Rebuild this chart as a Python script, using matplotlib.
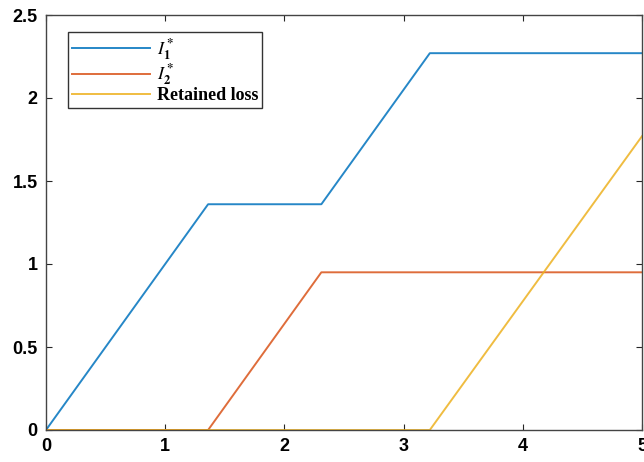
import matplotlib.pyplot as plt
import numpy as np

# breakpoints
x_i1 = [0, 1.36, 2.31, 3.22, 5]
y_i1 = [0, 1.36, 1.36, 2.27, 2.27]
x_i2 = [0, 1.36, 2.31, 5]
y_i2 = [0, 0, 0.95, 0.95]
x_ret = [0, 3.22, 5]
y_ret = [0, 0, 1.77]

labels = [r'$\mathbf{\mathit{I}_1^*}$', r'$\mathbf{\mathit{I}_2^*}$', 'Retained loss']
colors = ['#0072BD', '#D95319', '#EDB120']

plt.rcParams['mathtext.fontset'] = 'stix'

fig = plt.figure(figsize=(6.44, 4.62), dpi=100)
ax = fig.add_axes([46 / 644, 1 - 430 / 462, 596 / 644, 415 / 462])

ax.plot(x_i1, y_i1, color=colors[0], lw=1.4, alpha=0.85, label=labels[0])
ax.plot(x_i2, y_i2, color=colors[1], lw=1.4, alpha=0.85, label=labels[1])
ax.plot(x_ret, y_ret, color=colors[2], lw=1.4, alpha=0.85, label=labels[2])

ax.set_xlim(0, 5)
ax.set_ylim(0, 2.5)
ax.set_xticks(np.arange(0, 6, 1))
ax.set_yticks(np.arange(0, 3, 0.5))
ax.set_xticklabels(['0', '1', '2', '3', '4', '5'])
ax.set_yticklabels(['0', '0.5', '1', '1.5', '2', '2.5'])
ax.tick_params(direction='in', top=True, right=True, length=4, width=0.8,
               color='#262626', labelsize=13, pad=6)
for lab in ax.get_xticklabels() + ax.get_yticklabels():
    lab.set_fontweight('bold')
    lab.set_family('Liberation Sans')
for s in ax.spines.values():
    s.set_color('#444444')
    s.set_linewidth(1.0)

leg = ax.legend(loc='upper left', bbox_to_anchor=((68 - 46) / 596, (430 - 32) / 415),
                borderaxespad=0, fancybox=False, edgecolor='black',
                handlelength=4.3, handletextpad=0.4, borderpad=0.22, labelspacing=0.0,
                prop={'family': 'Liberation Serif', 'weight': 'bold', 'size': 13})
leg.get_frame().set_linewidth(1.0)

fig.savefig('out.png', dpi=100)
